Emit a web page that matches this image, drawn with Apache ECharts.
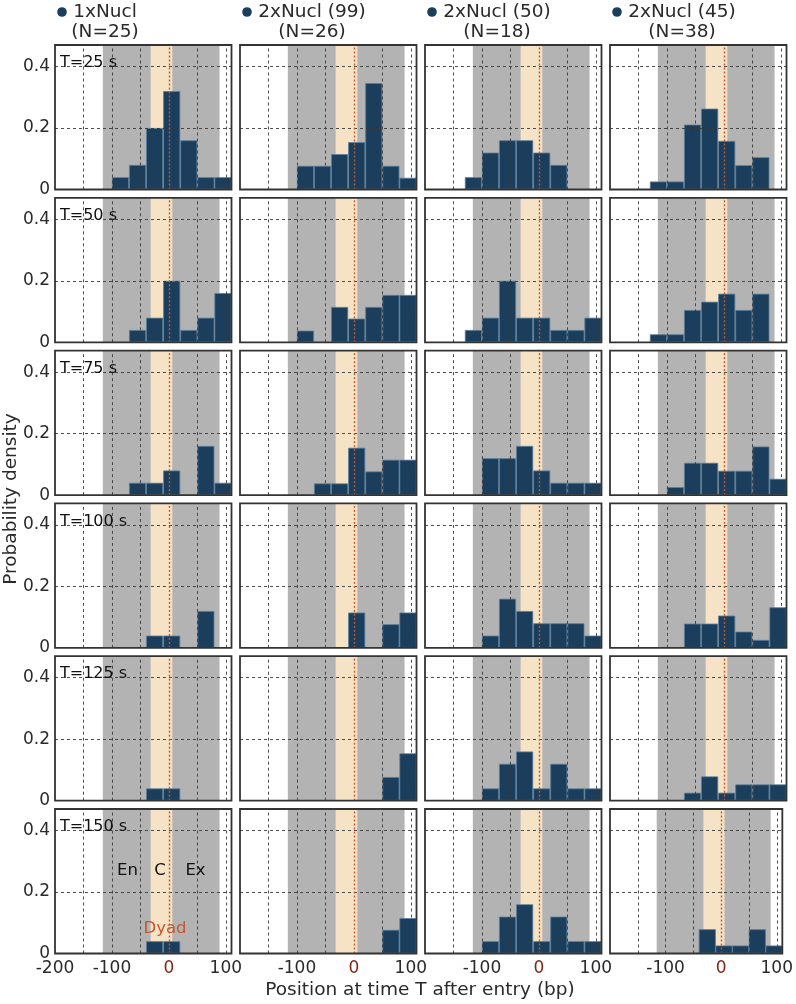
<!DOCTYPE html>
<html>
<head>
<meta charset="utf-8">
<script src="https://cdn.jsdelivr.net/npm/echarts@6.0.0/dist/echarts.min.js"></script>
<style>
html,body{margin:0;padding:0;background:#fff;}
#chart{width:796px;height:1004px;}
</style>
</head>
<body>
<div id="chart"></div>
<script>
// ---------------- data ----------------
const BIN_LEFT = [-130, -100, -70, -40, -10, 20, 50, 80];
const BIN_WIDTH = 30;
const X_MIN = -200, X_MAX = 110, X_STEP = 50;
const Y_MIN = 0, Y_MAX = 0.47, Y_STEP = 0.2;
const X_LABELS_FIRST = [-200, -100, 0, 100];
const X_LABELS_OTHER = [-100, 0, 100];
const Y_LABELS = [0, 0.2, 0.4];
const X_GRIDLINES = [-150, -100, -50, 50, 100];
const Y_GRIDLINES = [0.2, 0.4];
const DYAD = 0;
const REGION_NUCL = [-116, 89];
const REGION_CORE = [-32, 6];
const TIME_LABELS = ['T=25 s', 'T=50 s', 'T=75 s', 'T=100 s', 'T=125 s', 'T=150 s'];
const COLUMN_TITLES = ['1xNucl\n(N=25)', '2xNucl (99)\n(N=26)', '2xNucl (50)\n(N=18)', '2xNucl (45)\n(N=38)'];
const REGION_NAMES = ['En', 'C', 'Ex'];
const DYAD_NAME = 'Dyad';
const X_NAME = 'Position at time T after entry (bp)';
const Y_NAME = 'Probability density';

// rows: T=25,50,75,100,125,150 ; values per bin (BIN_LEFT)
const DENS_1XNUCL = [
  [0, 0.04, 0.08, 0.20, 0.32, 0.16, 0.04, 0.04],
  [0, 0, 0.04, 0.08, 0.20, 0.04, 0.08, 0.16],
  [0, 0, 0.04, 0.04, 0.08, 0, 0.16, 0.04],
  [0, 0, 0, 0.04, 0.04, 0, 0.12, 0],
  [0, 0, 0, 0.04, 0.04, 0, 0, 0],
  [0, 0, 0, 0.04, 0.04, 0, 0, 0]
];
const DENS_2XNUCL_99 = [
  [0, 0.077, 0.077, 0.115, 0.154, 0.346, 0.077, 0.038],
  [0, 0.038, 0, 0.115, 0.077, 0.115, 0.154, 0.154],
  [0, 0, 0.038, 0.038, 0.154, 0.077, 0.115, 0.115],
  [0, 0, 0, 0, 0.115, 0, 0.077, 0.115],
  [0, 0, 0, 0, 0, 0, 0.077, 0.154],
  [0, 0, 0, 0, 0, 0, 0.077, 0.115]
];
const DENS_2XNUCL_50 = [
  [0.04, 0.12, 0.16, 0.16, 0.12, 0.08, 0, 0],
  [0.04, 0.08, 0.20, 0.08, 0.08, 0.04, 0.04, 0.08],
  [0, 0.12, 0.12, 0.16, 0.08, 0.04, 0.04, 0.04],
  [0, 0.04, 0.16, 0.12, 0.08, 0.08, 0.08, 0.04],
  [0, 0.04, 0.12, 0.16, 0.04, 0.12, 0.04, 0.04],
  [0, 0.04, 0.12, 0.16, 0.04, 0.12, 0.04, 0.04]
];
const DENS_2XNUCL_45 = [
  [0.026, 0.026, 0.211, 0.263, 0.158, 0.079, 0.105, 0],
  [0.026, 0.026, 0.105, 0.132, 0.158, 0.105, 0.158, 0],
  [0, 0.026, 0.105, 0.105, 0.079, 0.079, 0.158, 0.053],
  [0, 0, 0.079, 0.079, 0.105, 0.053, 0.026, 0.132],
  [0, 0, 0.026, 0.079, 0.026, 0.053, 0.053, 0.053],
  [0, 0, 0, 0.079, 0.026, 0.026, 0.079, 0.026]
];
const COLUMNS = [DENS_1XNUCL, DENS_2XNUCL_99, DENS_2XNUCL_50, DENS_2XNUCL_45];

// ---------------- layout / style ----------------
const FONT = 'DejaVu Sans';
const GRID_LEFT = [55, 240, 425, 610];
const GRID_W = 176.5;
const GRID_TOP0 = 45;
const ROW_STEP = 152.8;
const GRID_H = 144.5;
const HEADER_CX = [50, 72, 72, 72];
const BAR_COLOR = '#1b3e5c';
const GRAY = '#b3b3b3';
const TAN = '#f6e3c5';
const DYAD_COLOR = '#c4582f';
const ZERO_COLOR = '#7e2a18';
const TEXT_COLOR = '#2a2a2a';
const GRID_LINE = {color: '#3a3a3a', type: [3, 3], width: 0.9};

const near = (a, b) => Math.abs(a - b) < 1e-6;
const barPx = BIN_WIDTH / (X_MAX - X_MIN) * GRID_W;

const grids = [], xAxes = [], yAxes = [], series = [], graphics = [];
const nRows = TIME_LABELS.length;

COLUMNS.forEach((rows, c) => {
  rows.forEach((vals, r) => {
    const i = grids.length;
    const top = GRID_TOP0 + r * ROW_STEP;
    const bottomRow = r === nRows - 1;
    grids.push({
      left: GRID_LEFT[c], top: top, width: GRID_W, height: GRID_H,
      show: true, z: 6, borderColor: '#333', borderWidth: 1.8, backgroundColor: 'transparent'
    });
    const xList = c === 0 ? X_LABELS_FIRST : X_LABELS_OTHER;
    xAxes.push({
      type: 'value', gridIndex: i, min: X_MIN, max: X_MAX, interval: X_STEP,
      axisLine: {show: false}, axisTick: {show: false}, splitLine: {show: false},
      axisLabel: {
        show: bottomRow, margin: 7, color: TEXT_COLOR, fontSize: 17, fontFamily: FONT,
        showMinLabel: true, showMaxLabel: true,
        formatter: v => {
          if (!xList.some(t => near(t, v))) return '';
          return near(v, 0) ? '{dy|0}' : String(v);
        },
        rich: {dy: {color: ZERO_COLOR, fontSize: 17, fontFamily: FONT}}
      }
    });
    yAxes.push({
      type: 'value', gridIndex: i, min: Y_MIN, max: Y_MAX, interval: Y_STEP,
      axisLine: {show: false}, axisTick: {show: false}, splitLine: {show: false},
      axisLabel: {
        show: c === 0, margin: 5, color: TEXT_COLOR, fontSize: 17, fontFamily: FONT,
        showMinLabel: true, showMaxLabel: true,
        formatter: v => {
          const t = Y_LABELS.find(t => near(t, v));
          if (t === undefined) return '';
          return t === 0 ? '0' : t.toFixed(1);
        }
      }
    });
    const lines = X_GRIDLINES.map(x => ({xAxis: x, lineStyle: GRID_LINE}))
      .concat(Y_GRIDLINES.map(y => ({yAxis: y, lineStyle: GRID_LINE})))
      .concat([{xAxis: DYAD, lineStyle: {color: DYAD_COLOR, type: [2, 2], width: 1.4}}]);
    series.push({
      type: 'bar', xAxisIndex: i, yAxisIndex: i, z: 2, silent: true,
      barWidth: barPx,
      data: BIN_LEFT.map((b, k) => [b + BIN_WIDTH / 2, vals[k]]).filter(d => d[1] > 0),
      itemStyle: {color: BAR_COLOR, borderColor: '#5b7d9c', borderWidth: 0.8},
      markArea: {
        silent: true, z: 1, label: {show: false},
        data: [
          [{xAxis: REGION_NUCL[0], itemStyle: {color: GRAY, opacity: 1}}, {xAxis: REGION_NUCL[1]}],
          [{xAxis: REGION_CORE[0], itemStyle: {color: TAN, opacity: 1}}, {xAxis: REGION_CORE[1]}]
        ]
      },
      markLine: {
        silent: true, z: 5, symbol: 'none', label: {show: false}, animation: false,
        data: lines
      }
    });
    if (c === 0) {
      graphics.push({
        type: 'text', x: GRID_LEFT[c] + 5, y: top + 18, z: 10,
        style: {text: TIME_LABELS[r], fontSize: 16, fontFamily: FONT, fill: '#111', align: 'left', verticalAlign: 'middle'}
      });
    }
  });
  graphics.push({type: 'circle', shape: {cx: GRID_LEFT[c] + 7, cy: 12, r: 4.8}, style: {fill: BAR_COLOR}});
  graphics.push({
    type: 'text', x: GRID_LEFT[c] + HEADER_CX[c], y: 22,
    style: {text: COLUMN_TITLES[c], fontSize: 18.5, fontFamily: FONT, fill: TEXT_COLOR, align: 'center', verticalAlign: 'middle', lineHeight: 20}
  });
});

// region annotations in bottom-left panel
const lastTop = GRID_TOP0 + (nRows - 1) * ROW_STEP;
const REGION_X = [127.5, 160, 195.5];
REGION_NAMES.forEach((t, k) => {
  graphics.push({type: 'text', x: REGION_X[k], y: lastTop + 62, z: 10,
    style: {text: t, fontSize: 16.5, fontFamily: FONT, fill: '#111', align: 'center', verticalAlign: 'middle'}});
});
graphics.push({type: 'text', x: 165, y: lastTop + 120, z: 10,
  style: {text: DYAD_NAME, fontSize: 16.5, fontFamily: FONT, fill: DYAD_COLOR, align: 'center', verticalAlign: 'middle'}});

// axis names
graphics.push({type: 'text', x: 420, y: 990,
  style: {text: X_NAME, fontSize: 18.5, fontFamily: FONT, fill: TEXT_COLOR, align: 'center', verticalAlign: 'middle'}});
graphics.push({type: 'text', x: 11, y: 499, rotation: Math.PI / 2,
  style: {text: Y_NAME, fontSize: 18.5, fontFamily: FONT, fill: TEXT_COLOR, align: 'center', verticalAlign: 'middle'}});

const chart = echarts.init(document.getElementById('chart'), null, {renderer: 'canvas'});
chart.setOption({
  animation: false,
  backgroundColor: '#fff',
  grid: grids, xAxis: xAxes, yAxis: yAxes, series: series,
  graphic: {elements: graphics}
});
</script>
</body>
</html>
